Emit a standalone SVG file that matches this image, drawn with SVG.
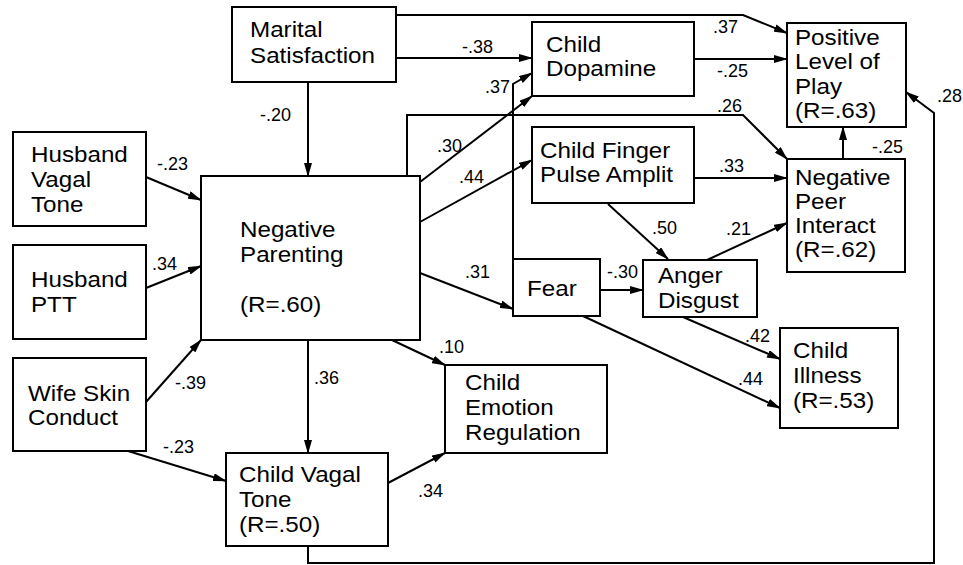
<svg xmlns="http://www.w3.org/2000/svg" width="963" height="565" viewBox="0 0 963 565">
<style>
rect{fill:#fff;stroke:#000;stroke-width:2}
.n{font-family:"Liberation Sans",Arial,sans-serif;font-size:22px;fill:#000;transform-box:fill-box;transform-origin:0 0;transform:scaleX(1.1)}
.l{font-family:"Liberation Sans",Arial,sans-serif;font-size:18px;fill:#000}
#edges path{fill:none;stroke:#000;stroke-width:2;marker-end:url(#ah)}
</style>
<defs>
<marker id="ah" markerUnits="userSpaceOnUse" markerWidth="14" markerHeight="8" refX="13" refY="4" orient="auto">
<path d="M0,0 L14,4 L0,8 z" fill="#000"/>
</marker>
</defs>
<rect x="0" y="0" width="963" height="565" style="stroke:none"/>
<g id="edges">
<path d="M308,82 V176"/>
<path d="M396,15 H743 L787,33"/>
<path d="M396,58 H532"/>
<path d="M694,59 H787"/>
<path d="M407,176 V115 H743 L787,159"/>
<path d="M513,259 V84 L532,73"/>
<path d="M420,182 L532,96"/>
<path d="M420,222 L532,160"/>
<path d="M420,273 L513,309"/>
<path d="M392,340 L445,365"/>
<path d="M308,340 V453"/>
<path d="M146,177 L201,200"/>
<path d="M146,288 L201,266"/>
<path d="M146,402 L201,340"/>
<path d="M128,451 L226,481"/>
<path d="M388,483 L445,453"/>
<path d="M308,546 V563 H934 V113 L906,92"/>
<path d="M694,178 H787"/>
<path d="M843,159 V127"/>
<path d="M608,204 L668,259"/>
<path d="M707,260 L787,223"/>
<path d="M600,290 H643"/>
<path d="M683,317 L780,359"/>
<path d="M583,316 L780,408"/>
</g>
<g id="labels">
<text class="l" x="260" y="121">-.20</text>
<text class="l" x="157" y="170">-.23</text>
<text class="l" x="152" y="270">.34</text>
<text class="l" x="175" y="389">-.39</text>
<text class="l" x="163" y="453">-.23</text>
<text class="l" x="314" y="384">.36</text>
<text class="l" x="418" y="497">.34</text>
<text class="l" x="439" y="353">.10</text>
<text class="l" x="465" y="278">.31</text>
<text class="l" x="437" y="152">.30</text>
<text class="l" x="459" y="183">.44</text>
<text class="l" x="485" y="93">.37</text>
<text class="l" x="462" y="53">-.38</text>
<text class="l" x="713" y="33">.37</text>
<text class="l" x="717" y="77">-.25</text>
<text class="l" x="717" y="112">.26</text>
<text class="l" x="719" y="172">.33</text>
<text class="l" x="872" y="153">-.25</text>
<text class="l" x="937" y="102">.28</text>
<text class="l" x="652" y="234">.50</text>
<text class="l" x="726" y="235">.21</text>
<text class="l" x="607" y="278">-.30</text>
<text class="l" x="745" y="342">.42</text>
<text class="l" x="738" y="385">.44</text>
</g>
<g id="marital"><rect x="232" y="7" width="164" height="75"/><text class="n" x="250" y="37">Marital</text><text class="n" x="250" y="63">Satisfaction</text></g>
<g id="dopamine"><rect x="532" y="22" width="162" height="74"/><text class="n" x="546" y="52">Child</text><text class="n" x="546" y="76">Dopamine</text></g>
<g id="play"><rect x="787" y="23" width="119" height="104"/><text class="n" x="795" y="45">Positive</text><text class="n" x="795" y="69">Level of</text><text class="n" x="795" y="94">Play</text><text class="n" x="795" y="118">(R=.63)</text></g>
<g id="peer"><rect x="787" y="159" width="118" height="113"/><text class="n" x="795" y="185">Negative</text><text class="n" x="795" y="209">Peer</text><text class="n" x="795" y="233">Interact</text><text class="n" x="795" y="257">(R=.62)</text></g>
<g id="finger"><rect x="532" y="127" width="162" height="76"/><text class="n" x="540" y="158">Child Finger</text><text class="n" x="540" y="182">Pulse Amplit</text></g>
<g id="hvagal"><rect x="13" y="132" width="133" height="94"/><text class="n" x="31" y="162">Husband</text><text class="n" x="31" y="187">Vagal</text><text class="n" x="31" y="212">Tone</text></g>
<g id="hptt"><rect x="13" y="245" width="133" height="94"/><text class="n" x="31" y="287">Husband</text><text class="n" x="31" y="312">PTT</text></g>
<g id="wskin"><rect x="13" y="358" width="133" height="93"/><text class="n" x="28" y="401">Wife Skin</text><text class="n" x="28" y="425">Conduct</text></g>
<g id="negpar"><rect x="201" y="176" width="219" height="164"/><text class="n" x="240" y="237">Negative</text><text class="n" x="240" y="262">Parenting</text><text class="n" x="240" y="312">(R=.60)</text></g>
<g id="fear"><rect x="513" y="259" width="87" height="57"/><text class="n" x="527" y="296">Fear</text></g>
<g id="anger"><rect x="643" y="260" width="114" height="57"/><text class="n" x="658" y="283">Anger</text><text class="n" x="658" y="308">Disgust</text></g>
<g id="illness"><rect x="780" y="328" width="118" height="100"/><text class="n" x="793" y="358">Child</text><text class="n" x="793" y="383">Illness</text><text class="n" x="793" y="408">(R=.53)</text></g>
<g id="emoreg"><rect x="445" y="365" width="162" height="88"/><text class="n" x="465" y="390">Child</text><text class="n" x="465" y="415">Emotion</text><text class="n" x="465" y="440">Regulation</text></g>
<g id="cvagal"><rect x="226" y="453" width="162" height="93"/><text class="n" x="239" y="482">Child Vagal</text><text class="n" x="239" y="507">Tone</text><text class="n" x="239" y="532">(R=.50)</text></g>
</svg>
